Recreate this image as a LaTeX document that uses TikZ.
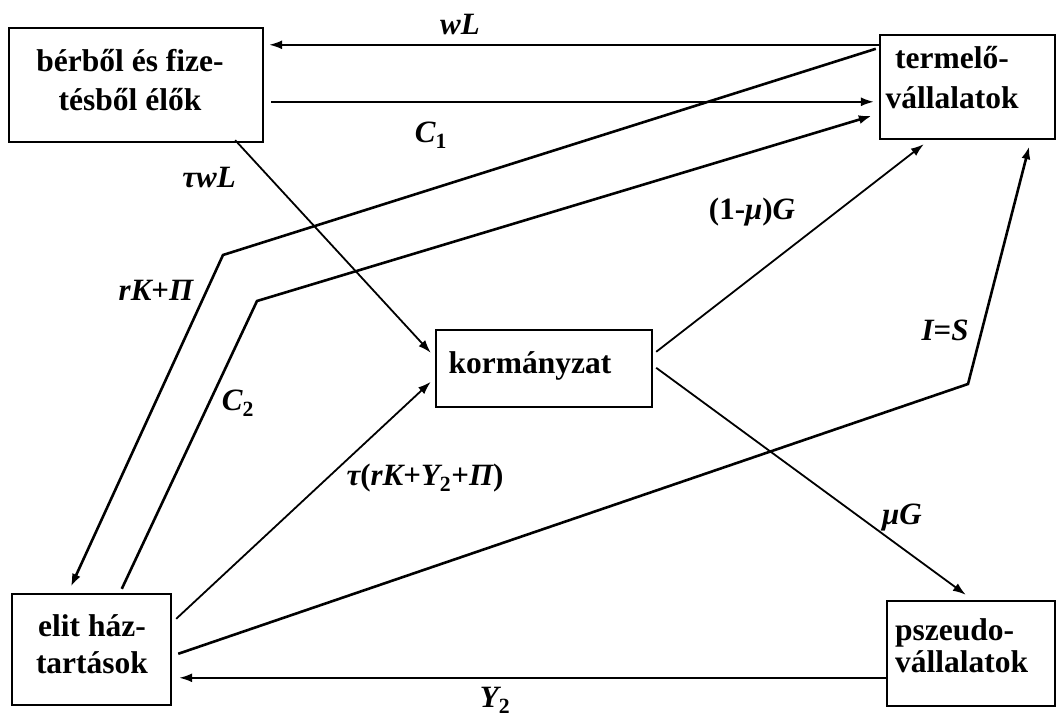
\documentclass[tikz,border=0pt]{standalone}
\usepackage{fontspec}
\setmainfont{Liberation Serif}
\usetikzlibrary{arrows.meta, positioning, calc}

\begin{document}
\begin{tikzpicture}[
  x=1pt, y=-1pt,
  box/.style={draw, line width=2.4pt, inner sep=0pt},
  boxtext/.style={font=\fontsize{31.5}{#1}\selectfont\bfseries, align=center, inner sep=0pt},
  boxtext/.default=38,
  flow/.style={line width=1.8pt, -{Latex[length=13pt, width=9pt]}},
  heavy/.style={flow, line width=2.6pt},
  lbl/.style={font=\fontsize{31}{36}\selectfont\bfseries\itshape, inner sep=0pt}
]
\useasboundingbox (0,0) rectangle (1056,717);

% Sectors
\node[box, minimum width=254pt, minimum height=114pt] (ber) at (136,85) {};
\node[box, minimum width=175pt, minimum height=104pt] (term) at (967.5,87) {};
\node[box, minimum width=216pt, minimum height=77pt] (korm) at (544,368.5) {};
\node[box, minimum width=159pt, minimum height=111pt] (elit) at (91.5,649.5) {};
\node[box, minimum width=168pt, minimum height=105pt] (pszeudo) at (971,653.5) {};

\node[boxtext=39] (bertext) at (130,80) {bérből és fize-\\tésből élők};
\node[boxtext=40] (termtext) at (952,78) {termelő-\\vállalatok};
\node[boxtext] (kormtext) at (530,366) {kormányzat};
\node[boxtext=37] (elittext) at (92,644) {elit ház-\\tartások};
\node[boxtext=32, align=left, anchor=west] (pszeudotext) at (895,646) {pszeudo-\\vállalatok};

% Bends
\coordinate (bendR) at (223,255);
\coordinate (bendC) at (257,301);
\coordinate (bendI) at (968,384);

% Wages and consumption
\draw[flow] ($(term.north west)+(0,11)$) -- ($(ber.north east)+(5,18)$);
\draw[flow] ($(ber.north east)+(7,75)$) -- ($(term.north west)+(-5,68)$);
\node[lbl] (wL) at (460,25) {wL};
\node[lbl] (C1) at (431,135) {C\textsubscript{\upshape 1}};

% Taxes
\draw[flow] ($(ber.south east)+(-29,-3)$) -- ($(korm.north west)+(-4,24)$);
\node[lbl] (twL) at (209,177) {τwL};
\draw[flow] ($(elit.north east)+(4,26)$) -- ($(korm.north west)+(-4,53)$);
\node[lbl] (tax) at (425,478) {τ{\upshape(}rK{\upshape+}Y\textsubscript{\upshape 2}{\upshape+}Π{\upshape)}};

% Elite flows
\draw[heavy] ($(term.north west)+(-3,15)$) -- (bendR) -- ($(elit.north west)+(60,-6)$);
\node[lbl] (rK) at (156,290) {rK{\upshape+}Π};
\draw[heavy] ($(elit.north west)+(111,-4)$) -- (bendC) -- ($(term.north west)+(-7,82)$);
\node[lbl] (C2) at (238,403) {C\textsubscript{\upshape 2}};
\draw[heavy] ($(elit.north east)+(6,61)$) -- (bendI) -- ($(term.south east)+(-27,6)$);
\node[lbl] (IS) at (945,330) {I{\upshape=}S};

% Government spending
\draw[flow] ($(korm.north east)+(3,23)$) -- ($(term.south west)+(45,4)$);
\node[lbl] (muG1) at (752,212) {{\upshape(1-}μ{\upshape)}G};
\draw[flow] ($(korm.north east)+(3,39)$) -- ($(pszeudo.north west)+(80,-5)$);
\node[lbl] (muG) at (902,518) {μG};

% Pseudo-firm income
\draw[flow] ($(pszeudo.north west)+(0,78)$) -- ($(elit.north east)+(7,85)$);
\node[lbl] (Y2) at (495,700) {Y\textsubscript{\upshape 2}};

\end{tikzpicture}
\end{document}
